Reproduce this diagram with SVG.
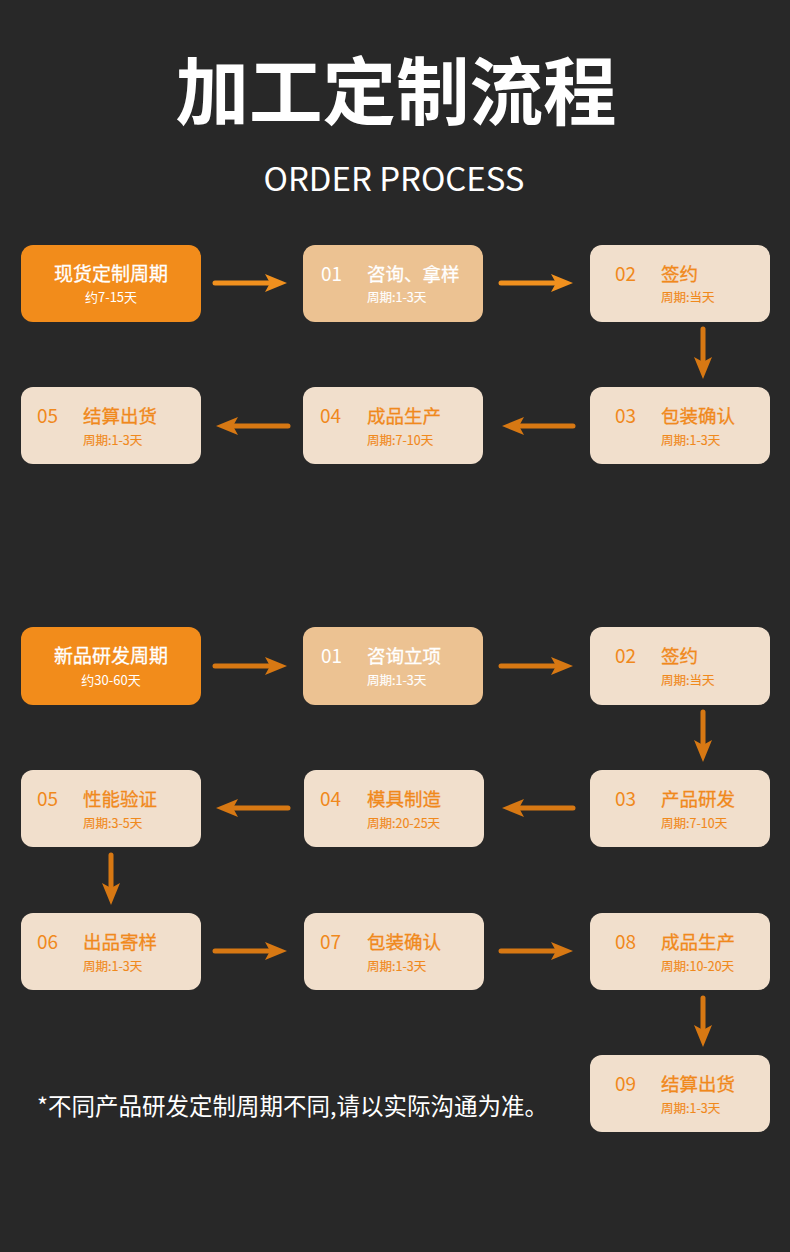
<svg xmlns="http://www.w3.org/2000/svg" width="790" height="1252" viewBox="0 0 790 1252">
<style>
  text { font-family: "Noto Sans CJK SC", "Noto Sans", sans-serif; }
  .bg { fill: #282828; }
  .hl { fill: #F28C1B; }
  .mid { fill: #ECC292; }
  .crm { fill: #F1DFCC; }
  .title { fill: #ffffff; font-size: 73.5px; font-weight: 700; text-anchor: middle; }
  .sub { fill: #ffffff; font-size: 32px; font-weight: 400; text-anchor: middle; }
  .ht { fill: #ffffff; stroke: #ffffff; stroke-width: 0.3; font-size: 19px; font-weight: 400; text-anchor: middle; }
  .hs { fill: #ffffff; font-size: 13px; text-anchor: middle; }
  .wn { fill: #ffffff; font-size: 19px; }
  .wt { fill: #ffffff; stroke: #ffffff; stroke-width: 0.3; font-size: 18.5px; font-weight: 400; }
  .ws { fill: #ffffff; stroke: #ffffff; stroke-width: 0.15; font-size: 12.5px; }
  .on { fill: #F0891C; font-size: 19px; }
  .ot { fill: #F0891C; stroke: #F0891C; stroke-width: 0.3; font-size: 18.5px; font-weight: 400; }
  .os { fill: #F0891C; stroke: #F0891C; stroke-width: 0.15; font-size: 12.5px; }
  .note { fill: #ffffff; font-size: 23.5px; }
  .a1 { stroke: #F0901E; stroke-width: 5; stroke-linecap: round; fill: none; marker-end: url(#hb); }
  .a2 { stroke: #D77813; stroke-width: 5; stroke-linecap: round; fill: none; marker-end: url(#hd); }
</style>
<defs>
  <marker id="hb" viewBox="0 0 22 18" markerUnits="userSpaceOnUse" markerWidth="22" markerHeight="18" refX="12" refY="9" orient="auto">
    <path d="M0,0 L22,9 L0,18 L5,9 Z" fill="#F0901E"/>
  </marker>
  <marker id="hd" viewBox="0 0 22 18" markerUnits="userSpaceOnUse" markerWidth="22" markerHeight="18" refX="12" refY="9" orient="auto">
    <path d="M0,0 L22,9 L0,18 L5,9 Z" fill="#D77813"/>
  </marker>
</defs>
<rect class="bg" x="0" y="0" width="790" height="1252"/>

<g id="heading">
  <text class="title" x="396" y="119">加工定制流程</text>
  <text class="sub" x="394" y="191" textLength="261" lengthAdjust="spacingAndGlyphs">ORDER PROCESS</text>
</g>

<!-- Section 1 -->
<g id="s1-start">
  <rect class="hl" x="21" y="245" width="180" height="77" rx="12"/>
  <text class="ht" x="111" y="281">现货定制周期</text>
  <text class="hs" x="111" y="302">约7-15天</text>
</g>
<g id="s1-n01">
  <rect class="mid" x="303" y="245" width="180" height="77" rx="12"/>
  <text class="wn" x="321" y="281">01</text>
  <text class="wt" x="367" y="281">咨询、拿样</text>
  <text class="ws" x="367" y="302">周期:1-3天</text>
</g>
<g id="s1-n02">
  <rect class="crm" x="590" y="245" width="180" height="77" rx="12"/>
  <text class="on" x="615" y="281">02</text>
  <text class="ot" x="661" y="281">签约</text>
  <text class="os" x="661" y="302">周期:当天</text>
</g>
<g id="s1-n03">
  <rect class="crm" x="590" y="387" width="180" height="77" rx="12"/>
  <text class="on" x="615" y="423">03</text>
  <text class="ot" x="661" y="423">包装确认</text>
  <text class="os" x="661" y="445">周期:1-3天</text>
</g>
<g id="s1-n04">
  <rect class="crm" x="303" y="387" width="180" height="77" rx="12"/>
  <text class="on" x="320" y="423">04</text>
  <text class="ot" x="367" y="423">成品生产</text>
  <text class="os" x="367" y="445">周期:7-10天</text>
</g>
<g id="s1-n05">
  <rect class="crm" x="21" y="387" width="180" height="77" rx="12"/>
  <text class="on" x="37" y="423">05</text>
  <text class="ot" x="83" y="423">结算出货</text>
  <text class="os" x="83" y="445">周期:1-3天</text>
</g>

<!-- Section 2 -->
<g id="s2-start">
  <rect class="hl" x="21" y="627" width="180" height="78" rx="12"/>
  <text class="ht" x="111" y="663">新品研发周期</text>
  <text class="hs" x="111" y="685">约30-60天</text>
</g>
<g id="s2-n01">
  <rect class="mid" x="303" y="627" width="180" height="78" rx="12"/>
  <text class="wn" x="321" y="663">01</text>
  <text class="wt" x="367" y="663">咨询立项</text>
  <text class="ws" x="367" y="685">周期:1-3天</text>
</g>
<g id="s2-n02">
  <rect class="crm" x="590" y="627" width="180" height="78" rx="12"/>
  <text class="on" x="615" y="663">02</text>
  <text class="ot" x="661" y="663">签约</text>
  <text class="os" x="661" y="685">周期:当天</text>
</g>
<g id="s2-n03">
  <rect class="crm" x="590" y="770" width="180" height="77" rx="12"/>
  <text class="on" x="615" y="806">03</text>
  <text class="ot" x="661" y="806">产品研发</text>
  <text class="os" x="661" y="828">周期:7-10天</text>
</g>
<g id="s2-n04">
  <rect class="crm" x="304" y="770" width="180" height="77" rx="12"/>
  <text class="on" x="320" y="806">04</text>
  <text class="ot" x="367" y="806">模具制造</text>
  <text class="os" x="367" y="828">周期:20-25天</text>
</g>
<g id="s2-n05">
  <rect class="crm" x="21" y="770" width="180" height="77" rx="12"/>
  <text class="on" x="37" y="806">05</text>
  <text class="ot" x="83" y="806">性能验证</text>
  <text class="os" x="83" y="828">周期:3-5天</text>
</g>
<g id="s2-n06">
  <rect class="crm" x="21" y="913" width="180" height="77" rx="12"/>
  <text class="on" x="37" y="949">06</text>
  <text class="ot" x="83" y="949">出品寄样</text>
  <text class="os" x="83" y="971">周期:1-3天</text>
</g>
<g id="s2-n07">
  <rect class="crm" x="304" y="913" width="180" height="77" rx="12"/>
  <text class="on" x="320" y="949">07</text>
  <text class="ot" x="367" y="949">包装确认</text>
  <text class="os" x="367" y="971">周期:1-3天</text>
</g>
<g id="s2-n08">
  <rect class="crm" x="590" y="913" width="180" height="77" rx="12"/>
  <text class="on" x="615" y="949">08</text>
  <text class="ot" x="661" y="949">成品生产</text>
  <text class="os" x="661" y="971">周期:10-20天</text>
</g>
<g id="s2-n09">
  <rect class="crm" x="590" y="1055" width="180" height="77" rx="12"/>
  <text class="on" x="615" y="1091">09</text>
  <text class="ot" x="661" y="1091">结算出货</text>
  <text class="os" x="661" y="1113">周期:1-3天</text>
</g>

<g id="connectors">
  <line class="a1" x1="215" y1="283" x2="277" y2="283"/>
  <line class="a1" x1="501" y1="283" x2="563" y2="283"/>
  <line class="a2" x1="703" y1="329" x2="703" y2="369"/>
  <line class="a2" x1="573" y1="426" x2="512" y2="426"/>
  <line class="a2" x1="288" y1="426" x2="226" y2="426"/>

  <line class="a2" x1="215" y1="666" x2="277" y2="666"/>
  <line class="a2" x1="501" y1="666" x2="563" y2="666"/>
  <line class="a2" x1="703" y1="712" x2="703" y2="752"/>
  <line class="a2" x1="573" y1="808" x2="512" y2="808"/>
  <line class="a2" x1="288" y1="808" x2="226" y2="808"/>
  <line class="a2" x1="111" y1="855" x2="111" y2="895"/>
  <line class="a2" x1="215" y1="951" x2="277" y2="951"/>
  <line class="a2" x1="501" y1="951" x2="563" y2="951"/>
  <line class="a2" x1="703" y1="998" x2="703" y2="1037"/>
</g>

<g id="footnote">
  <text class="note" x="37" y="1115">*不同产品研发定制周期不同,请以实际沟通为准。</text>
</g>
</svg>
